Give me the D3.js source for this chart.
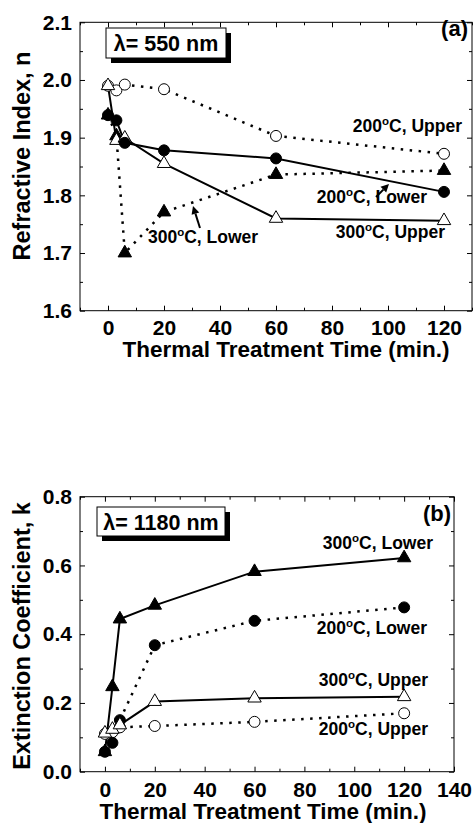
<!DOCTYPE html>
<html>
<head>
<meta charset="utf-8">
<script src="https://cdn.jsdelivr.net/npm/d3@7"></script>
<style>
  body { margin: 0; background: #fff; }
  svg { display: block; }
  text { font-family: "Liberation Sans", Arial, sans-serif; font-weight: bold; fill: #000; }
</style>
</head>
<body>
<div id="chart"></div>
<script>
// Data
const times = [0, 3, 6, 20, 60, 120];

// (a) refractive index at 550 nm
const nUpper200 = [1.990, 1.982, 1.992, 1.984, 1.903, 1.872];
const nLower200 = [1.939, 1.930, 1.891, 1.878, 1.864, 1.806];
const nUpper300 = [1.990, 1.895, 1.899, 1.855, 1.760, 1.756];
const nLower300 = [1.939, 1.903, 1.700, 1.771, 1.836, 1.843];

// (b) extinction coefficient at 1180 nm
const kUpper200 = [0.110, 0.115, 0.129, 0.133, 0.145, 0.170];
const kLower200 = [0.058, 0.084, 0.150, 0.368, 0.439, 0.478];
const kUpper300 = [0.112, 0.123, 0.136, 0.204, 0.214, 0.218];
const kLower300 = [0.058, 0.247, 0.444, 0.484, 0.582, 0.622];

const xTicksA = [0, 20, 40, 60, 80, 100, 120];
const xTicksB = [0, 20, 40, 60, 80, 100, 120, 140];
const yTicksA = [1.6, 1.7, 1.8, 1.9, 2.0, 2.1];
const yTicksB = [0.0, 0.2, 0.4, 0.6, 0.8];

const svg = d3.select("#chart")
  .append("svg")
  .attr("width", 473)
  .attr("height", 823);

// marker: "circle" | "triangle", filled or open
function drawPanel(cfg) {
  const x = d3.scaleLinear().domain(cfg.xDomain).range(cfg.xRange);
  const y = d3.scaleLinear().domain(cfg.yDomain).range(cfg.yRange);
  const g = svg.append("g");
  const [x0, x1] = cfg.xRange;
  const [y0, y1] = cfg.yRange;

  const minorX = d3.range(cfg.xDomain[0], cfg.xDomain[1] + 0.001, 10).filter(v => !cfg.xTicks.includes(v));
  const minorY = d3.range(cfg.yDomain[0], cfg.yDomain[1] + 1e-6, cfg.yMinor)
    .filter(v => !cfg.yTicks.some(t => Math.abs(t - v) < 1e-6));

  // bottom + left with labels, top + right mirrored, all ticks inside
  const axes = [
    { a: d3.axisBottom(x).tickValues(cfg.xTicks).tickSize(-5).tickPadding(cfg.xPad).tickFormat(d3.format("d")), t: `translate(0,${y0})` },
    { a: d3.axisBottom(x).tickValues(minorX).tickSize(-3).tickFormat(""), t: `translate(0,${y0})` },
    { a: d3.axisTop(x).tickValues(cfg.xTicks).tickSize(-5).tickFormat(""), t: `translate(0,${y1})` },
    { a: d3.axisTop(x).tickValues(minorX).tickSize(-3).tickFormat(""), t: `translate(0,${y1})` },
    { a: d3.axisLeft(y).tickValues(cfg.yTicks).tickSize(-5).tickPadding(8).tickFormat(d3.format(".1f")), t: `translate(${x0},0)` },
    { a: d3.axisLeft(y).tickValues(minorY).tickSize(-3).tickFormat(""), t: `translate(${x0},0)` },
    { a: d3.axisRight(y).tickValues(cfg.yTicks).tickSize(-5).tickFormat(""), t: `translate(${x1},0)` },
    { a: d3.axisRight(y).tickValues(minorY).tickSize(-3).tickFormat(""), t: `translate(${x1},0)` }
  ];
  axes.forEach(ax => {
    const sel = g.append("g").attr("transform", ax.t).call(ax.a.tickSizeOuter(0));
    sel.select(".domain").remove();
    sel.selectAll("line").attr("stroke", "#000").attr("stroke-width", 1);
    sel.selectAll("text")
      .attr("font-family", null)
      .attr("font-size", 21)
      .attr("font-weight", "bold")
      .attr("fill", "#000");
  });

  g.append("rect")
    .attr("x", x0).attr("y", y1)
    .attr("width", x1 - x0).attr("height", y0 - y1)
    .attr("fill", "none").attr("stroke", "#000").attr("stroke-width", 1);

  // axis titles
  g.append("text")
    .attr("x", cfg.xTitleX).attr("y", cfg.xTitleY)
    .attr("text-anchor", "middle").attr("font-size", 22.5)
    .text("Thermal Treatment Time (min.)");
  g.append("text")
    .attr("transform", `translate(30,${cfg.yTitleY}) rotate(-90)`)
    .attr("text-anchor", "middle").attr("font-size", 23.5)
    .text(cfg.yTitle);

  // lambda box with shadow
  const b = cfg.box;
  g.append("rect").attr("x", b.x + 5).attr("y", b.y + 5).attr("width", b.w).attr("height", b.h).attr("fill", "#000");
  g.append("rect").attr("x", b.x).attr("y", b.y).attr("width", b.w).attr("height", b.h)
    .attr("fill", "#fff").attr("stroke", "#000").attr("stroke-width", 1);
  g.append("text").attr("x", b.x + b.w / 2).attr("y", b.y + 22.5)
    .attr("text-anchor", "middle").attr("font-size", 21.5)
    .text(cfg.boxText);

  g.append("text").attr("x", cfg.tag.x).attr("y", cfg.tag.y)
    .attr("text-anchor", "end").attr("font-size", 22).text(cfg.tag.text);

  // series lines
  const line = d3.line().x((d, i) => x(times[i])).y(d => y(d));
  cfg.series.forEach(s => {
    g.append("path")
      .datum(s.values)
      .attr("fill", "none")
      .attr("stroke", "#000")
      .attr("stroke-width", s.dotted ? 2.5 : 2)
      .attr("stroke-dasharray", s.dotted ? "2.5 6.5" : null)
      .attr("d", line);
  });

  // markers
  cfg.series.forEach(s => {
    const sym = d3.symbol()
      .type(s.marker === "circle" ? d3.symbolCircle : d3.symbolTriangle)
      .size(s.marker === "circle" ? 95 : 78);
    g.selectAll(null)
      .data(s.values)
      .enter()
      .append("path")
      .attr("transform", (d, i) => `translate(${x(times[i])},${y(d)})`)
      .attr("d", sym)
      .attr("fill", s.filled ? "#000" : "#fff")
      .attr("stroke", "#000")
      .attr("stroke-width", 1);
  });

  // labels like 200°C, Upper
  cfg.labels.forEach(l => {
    const t = g.append("text").attr("x", l.x).attr("y", l.y)
      .attr("text-anchor", l.anchor || "end").attr("font-size", 17.5);
    t.append("tspan").text(l.temp);
    t.append("tspan").attr("font-size", 11.5).attr("dy", -7.5).text("o");
    t.append("tspan").attr("dy", 7.5).text("C, " + l.side);
  });

  // arrows
  (cfg.arrows || []).forEach(a => {
    const ang = Math.atan2(a.y2 - a.y1, a.x2 - a.x1);
    const hl = 8, hw = 4;
    const bx = a.x2 - hl * Math.cos(ang), by = a.y2 - hl * Math.sin(ang);
    g.append("line").attr("x1", a.x1).attr("y1", a.y1).attr("x2", bx).attr("y2", by)
      .attr("stroke", "#000").attr("stroke-width", 2);
    g.append("path")
      .attr("d", `M${a.x2},${a.y2}L${bx - hw * Math.sin(ang)},${by + hw * Math.cos(ang)}L${bx + hw * Math.sin(ang)},${by - hw * Math.cos(ang)}Z`)
      .attr("fill", "#000");
  });
}

drawPanel({
  xDomain: [-10, 130], xRange: [80, 472],
  yDomain: [1.6, 2.1], yRange: [310.7, 22.3],
  xTicks: xTicksA, yTicks: yTicksA, yMinor: 0.05, xPad: 9,
  xTitleX: 286, xTitleY: 357, yTitleY: 156,
  yTitle: "Refractive Index, n",
  box: { x: 106, y: 28, w: 120, h: 30 }, boxText: "\u03bb= 550 nm",
  tag: { x: 468, y: 36, text: "(a)" },
  series: [
    { values: nUpper200, marker: "circle", filled: false, dotted: true },
    { values: nLower300, marker: "triangle", filled: true, dotted: true },
    { values: nUpper300, marker: "triangle", filled: false, dotted: false },
    { values: nLower200, marker: "circle", filled: true, dotted: false }
  ],
  labels: [
    { temp: "200", side: "Upper", x: 462, y: 132 },
    { temp: "200", side: "Lower", x: 427, y: 203 },
    { temp: "300", side: "Upper", x: 445, y: 238 },
    { temp: "300", side: "Lower", x: 148, y: 243, anchor: "start" }
  ],
  arrows: [
    { x1: 200, y1: 228, x2: 193, y2: 206 },
    { x1: 376, y1: 197, x2: 389, y2: 184 }
  ]
});

drawPanel({
  xDomain: [-10, 140], xRange: [80, 454],
  yDomain: [0, 0.8], yRange: [771.7, 496.7],
  xTicks: xTicksB, yTicks: yTicksB, yMinor: 0.1, xPad: 10,
  xTitleX: 263, xTitleY: 819, yTitleY: 636,
  yTitle: "Extinction Coefficient, k",
  box: { x: 97, y: 507, w: 128, h: 29 }, boxText: "\u03bb= 1180 nm",
  tag: { x: 451, y: 521, text: "(b)" },
  series: [
    { values: kUpper200, marker: "circle", filled: false, dotted: true },
    { values: kLower200, marker: "circle", filled: true, dotted: true },
    { values: kUpper300, marker: "triangle", filled: false, dotted: false },
    { values: kLower300, marker: "triangle", filled: true, dotted: false }
  ],
  labels: [
    { temp: "300", side: "Lower", x: 433, y: 549 },
    { temp: "200", side: "Lower", x: 427, y: 634 },
    { temp: "300", side: "Upper", x: 428, y: 686 },
    { temp: "200", side: "Upper", x: 428, y: 735 }
  ]
});
</script>
</body>
</html>
